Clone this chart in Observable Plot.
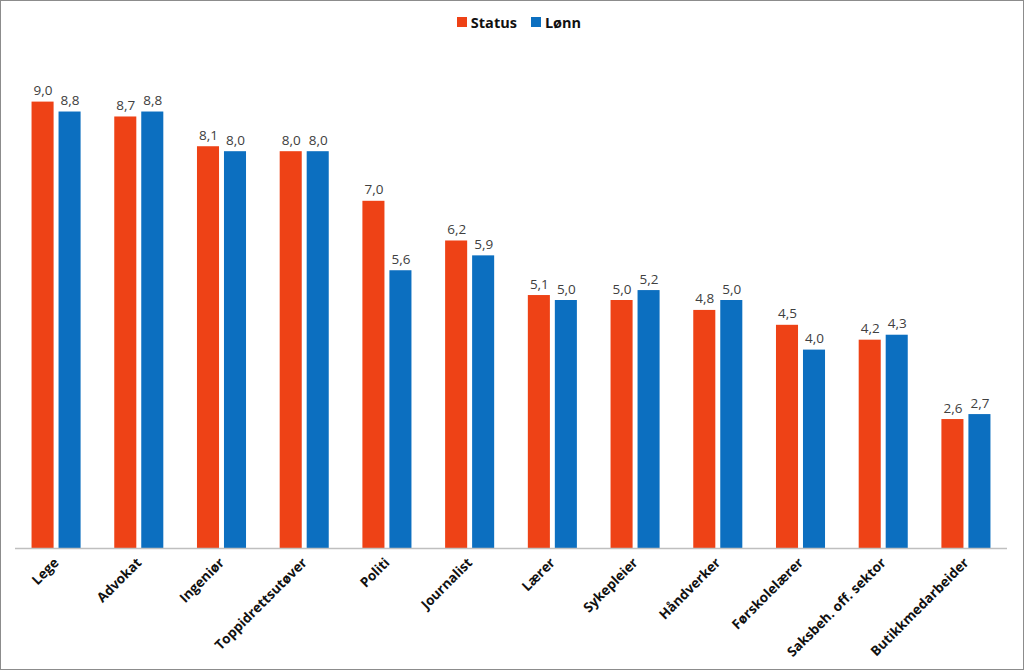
<!DOCTYPE html>
<html>
<head>
<meta charset="utf-8">
<script src="https://cdn.jsdelivr.net/npm/d3@7"></script>
<script src="https://cdn.jsdelivr.net/npm/@observablehq/plot@0.6"></script>
<style>
  html, body { margin: 0; padding: 0; background: #fff; }
  #wrap { position: relative; width: 1024px; height: 670px; overflow: hidden; font-family: "Open Sans", sans-serif; }
  #frame { position: absolute; inset: 0; border: 1px solid #8c8c8c; pointer-events: none; box-sizing: border-box; }
  #legend { height: 44px; display: flex; justify-content: center; align-items: center; gap: 14px; font-weight: bold; font-size: 14.5px; color: #111; padding-left: 14px; box-sizing: border-box; }
  #legend .item { display: flex; align-items: center; gap: 4px; }
  #legend .sw { width: 10px; height: 10px; display: inline-block; }
</style>
</head>
<body>
<div id="wrap">
  <div id="legend"></div>
  <div id="chart"></div>
  <div id="frame"></div>
</div>
<script>
const occupations = ["Lege", "Advokat", "Ingeniør", "Toppidrettsutøver", "Politi", "Journalist", "Lærer", "Sykepleier", "Håndverker", "Førskolelærer", "Saksbeh. off. sektor", "Butikkmedarbeider"];
const statusValues = [9.0, 8.7, 8.1, 8.0, 7.0, 6.2, 5.1, 5.0, 4.8, 4.5, 4.2, 2.6];
const lonnValues   = [8.8, 8.8, 8.0, 8.0, 5.6, 5.9, 5.0, 5.2, 5.0, 4.0, 4.3, 2.7];
const seriesNames = ["Status", "Lønn"];
const seriesColors = ["#ee4216", "#0c6fc0"];

const fmt = v => v.toFixed(1).replace(".", ",");
const statusData = occupations.map((o, i) => ({occupation: o, value: statusValues[i]}));
const lonnData = occupations.map((o, i) => ({occupation: o, value: lonnValues[i]}));

// legend
const legend = document.getElementById("legend");
seriesNames.forEach((s, i) => {
  const it = document.createElement("span");
  it.className = "item";
  it.innerHTML = `<span class="sw" style="background:${seriesColors[i]}"></span><span>${s}</span>`;
  legend.appendChild(it);
});

const barW = 22, gap = 5;
const half = (barW + gap) / 2;

const chart = Plot.plot({
  width: 1024,
  height: 626,
  marginTop: 8,
  marginBottom: 122,
  marginLeft: 15,
  marginRight: 17,
  style: {fontFamily: "Open Sans, sans-serif", background: "#fff"},
  x: {domain: occupations, paddingInner: 0.407, paddingOuter: 0.2, round: false, label: null},
  y: {domain: [0, 10], axis: null},
  marks: [
    Plot.barY(statusData, {x: "occupation", y: "value", fill: seriesColors[0], insetRight: barW + gap}),
    Plot.barY(lonnData, {x: "occupation", y: "value", fill: seriesColors[1], insetLeft: barW + gap}),
    Plot.text(statusData, {x: "occupation", y: "value", text: d => fmt(d.value), dx: -half, dy: -7, lineAnchor: "bottom", fontSize: 13.5, fill: "#404040"}),
    Plot.text(lonnData, {x: "occupation", y: "value", text: d => fmt(d.value), dx: half, dy: -7, lineAnchor: "bottom", fontSize: 13.5, fill: "#404040"}),
    Plot.ruleY([0], {stroke: "#bfbfbf", strokeWidth: 1.5}),
    Plot.axisX({tickSize: 0, tickPadding: 12, tickRotate: -45, fontSize: 13.5, fontWeight: "bold", fill: "#111", label: null})
  ]
});
document.getElementById("chart").appendChild(chart);
</script>
</body>
</html>
